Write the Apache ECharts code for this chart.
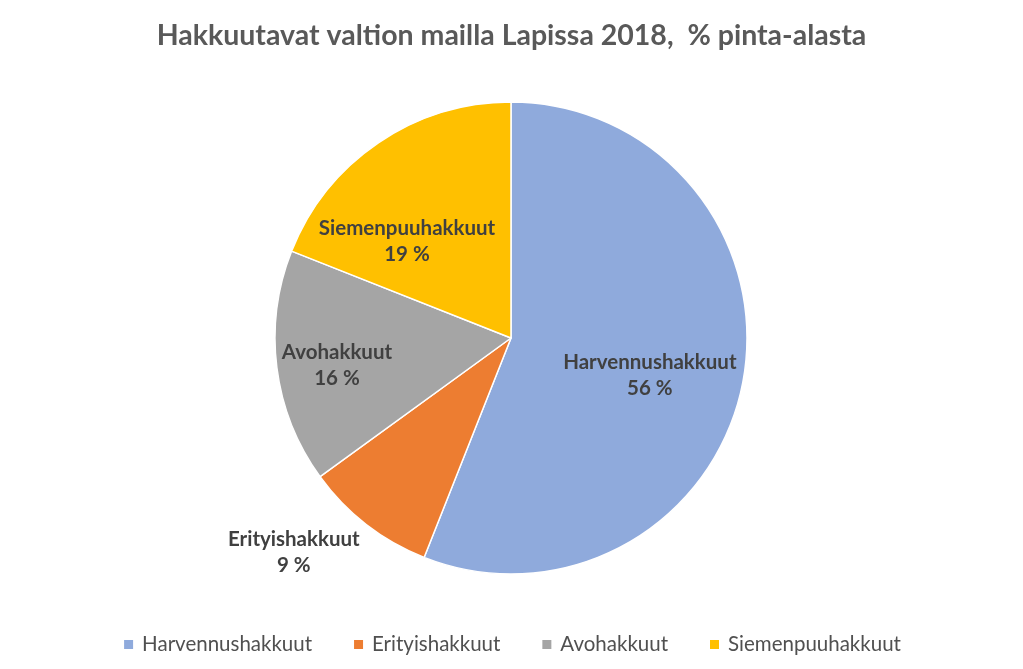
<!DOCTYPE html>
<html>
<head>
<meta charset="utf-8">
<script src="https://cdn.jsdelivr.net/npm/echarts@6/dist/echarts.min.js"></script>
<style>
html,body{margin:0;padding:0;background:#fff;}
#chart{width:1023px;height:669px;}
</style>
</head>
<body>
<div id="chart"></div>
<script>
const titleText = 'Hakkuutavat valtion mailla Lapissa 2018,  % pinta-alasta';
const categories = ['Harvennushakkuut', 'Erityishakkuut', 'Avohakkuut', 'Siemenpuuhakkuut'];
const values = [56, 9, 16, 19];
const colors = ['#8FAADC', '#ED7D31', '#A5A5A5', '#FFC000'];
const labelOffsets = [[20, 15], [-143, 119], [-54, 12], [-36, 3]];

const chart = echarts.init(document.getElementById('chart'));
const FONT = 'Lato';
chart.setOption({
  backgroundColor: '#ffffff',
  animation: false,
  title: {
    text: titleText,
    left: 'center',
    top: 16,
    textStyle: {fontFamily: FONT, fontSize: 28.5, fontWeight: 'bold', color: '#595959'}
  },
  legend: {
    top: 629,
    left: 'center',
    icon: 'rect',
    itemWidth: 11,
    itemHeight: 11,
    itemGap: 40,
    textStyle: {fontFamily: FONT, fontSize: 20.5, color: '#505050', padding: [0, 0, 0, 3]},
    data: categories
  },
  color: colors,
  series: [{
    type: 'pie',
    center: [511, 338],
    radius: 236,
    startAngle: 90,
    clockwise: true,
    itemStyle: {borderColor: '#ffffff', borderWidth: 1.5},
    label: {
      position: 'inside',
      formatter: '{b}\n{c} %',
      fontFamily: FONT,
      fontSize: 20.5,
      fontWeight: 'bold',
      color: '#404040',
      lineHeight: 26
    },
    labelLine: {show: false},
    emphasis: {disabled: true},
    data: categories.map((c, i) => ({
      name: c,
      value: values[i],
      label: {offset: labelOffsets[i]}
    }))
  }]
});
</script>
</body>
</html>
